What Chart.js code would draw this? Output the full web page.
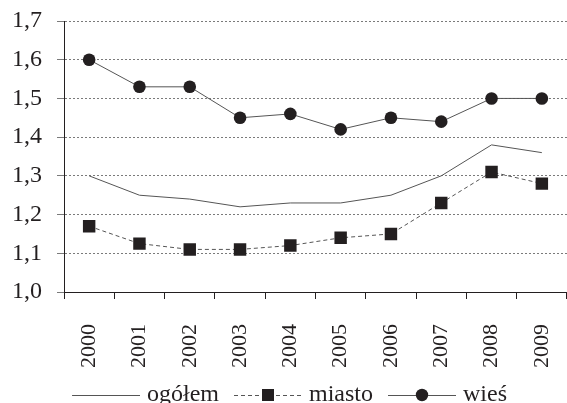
<!DOCTYPE html>
<html>
<head>
<meta charset="utf-8">
<script src="https://cdn.jsdelivr.net/npm/chart.js@4"></script>
<style>
  html, body { margin:0; padding:0; background:#fff; }
  #wrap { width:567px; height:403px; position:relative; }
</style>
</head>
<body>
<div id="wrap"><canvas id="c"></canvas></div>
<script>
// ─── Data ───────────────────────────────────────────────────────────────
const years  = ['2000','2001','2002','2003','2004','2005','2006','2007','2008','2009'];
const ogolem = [1.30, 1.25, 1.24, 1.22, 1.23, 1.23, 1.25, 1.30, 1.38, 1.36];
const miasto = [1.17, 1.125, 1.11, 1.11, 1.12, 1.14, 1.15, 1.23, 1.31, 1.28];
const wies   = [1.60, 1.53, 1.53, 1.45, 1.46, 1.42, 1.45, 1.44, 1.50, 1.50];
const seriesNames = ['ogółem', 'miasto', 'wieś'];

const INK  = '#231f20';
const LINE = '#555';
const FONT = '"Liberation Serif", "Times New Roman", serif';

// legend samples: small canvases used as pointStyle images
// (drawn 5px right of centre so the text sits closer to the sample)
function sample(kind) {
  const c = document.createElement('canvas');
  c.width = 78; c.height = 14;
  const g = c.getContext('2d');
  g.strokeStyle = LINE; g.lineWidth = 1;
  if (kind === 'dash') g.setLineDash([4,3]);
  g.beginPath(); g.moveTo(10, 7.5); g.lineTo(78, 7.5); g.stroke();
  g.fillStyle = INK;
  if (kind === 'dash') g.fillRect(38, 1, 12, 12);
  if (kind === 'dot') { g.beginPath(); g.arc(44, 7, 6.2, 0, Math.PI*2); g.fill(); }
  return c;
}
const samples = [sample('line'), sample('dash'), sample('dot')];

new Chart(document.getElementById('c'), {
  type: 'line',
  data: {
    labels: years,
    datasets: [
      { label: seriesNames[0], data: ogolem, borderColor: LINE, borderWidth: 1, pointRadius: 0, tension: 0 },
      { label: seriesNames[1], data: miasto, borderColor: LINE, borderWidth: 1, borderDash: [4,3],
        pointStyle: 'rect', pointRadius: 8.8, pointBackgroundColor: INK, pointBorderWidth: 0, tension: 0 },
      { label: seriesNames[2], data: wies, borderColor: LINE, borderWidth: 1,
        pointStyle: 'circle', pointRadius: 6.3, pointBackgroundColor: INK, pointBorderWidth: 0, tension: 0 },
    ]
  },
  plugins: [{
    id: 'legendShift',
    afterLayout: c => { c.legend.left += 5; c.legend.right += 5; }
  }],
  options: {
    responsive: true,
    maintainAspectRatio: false,
    animation: false,
    layout: { autoPadding: false, padding: { left: -3, right: 0, top: 21, bottom: -14 } },
    plugins: {
      tooltip: { enabled: false },
      legend: {
        position: 'bottom',
        labels: {
          usePointStyle: true,
          pointStyleWidth: 68,
          padding: 10,
          color: INK,
          font: { family: FONT, size: 24 },
          generateLabels: chart => chart.data.datasets.map((d, i) => ({
            text: d.label, pointStyle: samples[i], datasetIndex: i,
            fontColor: INK, lineWidth: 0, strokeStyle: 'transparent', fillStyle: 'transparent'
          }))
        }
      }
    },
    scales: {
      x: {
        offset: true,
        // let the rotated year labels reach down toward the legend
        afterFit: s => { s.paddingLeft = 0; s.paddingRight = 0; s.height -= 20; },
        grid: { offset: true, drawOnChartArea: false, tickLength: 7, color: INK },
        border: { color: INK, width: 1 },
        ticks: { minRotation: 90, maxRotation: 90, padding: 25, color: INK, font: { family: FONT, size: 22 } }
      },
      y: {
        min: 1.0, max: 1.7,
        afterFit: s => { s.paddingTop = 0; s.paddingBottom = 0; },
        grid: {
          tickLength: 7,
          color: c => (c.tick && c.tick.value < 1.001) ? 'rgba(0,0,0,0)' : '#7a7a7a',
          tickColor: '#7a7a7a'
        },
        border: { color: INK, width: 1, dash: [2,2] },
        ticks: {
          stepSize: 0.1, padding: 15, color: INK,
          font: { family: FONT, size: 24 },
          callback: v => v.toFixed(1).replace('.', ',')
        }
      }
    }
  }
});
</script>
</body>
</html>
